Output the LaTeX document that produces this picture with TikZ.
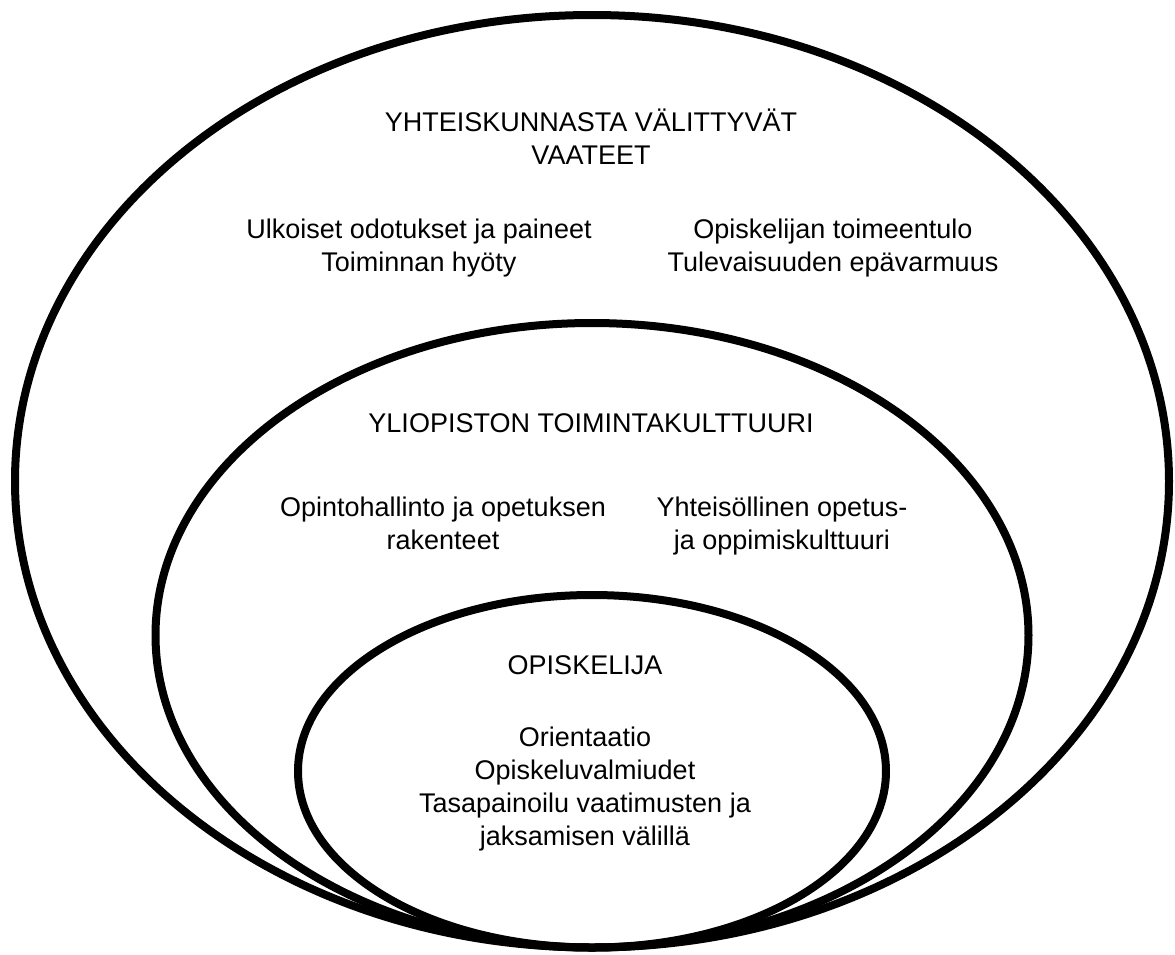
\documentclass[tikz,border=0pt]{standalone}
\usepackage{fontspec}
\setmainfont{Liberation Sans}

\begin{document}
\begin{tikzpicture} [x=0.5pt, y=-0.5pt,
    ring/.style={line width=4pt},
    every node/.style={align=center, inner sep=0pt, font=\fontsize{13.5}{16.5}\selectfont},]
\useasboundingbox (0,0) rectangle (1175,955);
\draw[ring] (592,481.25) ellipse [x radius=577, y radius=466.25];
\draw[ring] (592,635.25) ellipse [x radius=436.5, y radius=312.25];
\draw[ring] (592,771.25) ellipse [x radius=294, y radius=176.25];
\node (society) at (591,137) {YHTEISKUNNASTA VÄLITTYVÄT\\VAATEET};
\node (expectations) at (419,248.5) {Ulkoiset odotukset ja paineet\\Toiminnan hyöty};
\node (livelihood) at (833,248.5) {Opiskelijan toimeentulo\\Tulevaisuuden epävarmuus};
\node (university) at (591,423.4) {YLIOPISTON TOIMINTAKULTTUURI};
\node (administration) at (443,523.7) {Opintohallinto ja opetuksen\\rakenteet};
\node (community) at (782,526.5) {Yhteisöllinen opetus-\\ja oppimiskulttuuri};
\node (student) at (585,665.3) {OPISKELIJA};
\node (orientation) at (585,789) {Orientaatio\\Opiskeluvalmiudet\\Tasapainoilu vaatimusten ja\\jaksamisen välillä};

\end{tikzpicture}
\end{document}
